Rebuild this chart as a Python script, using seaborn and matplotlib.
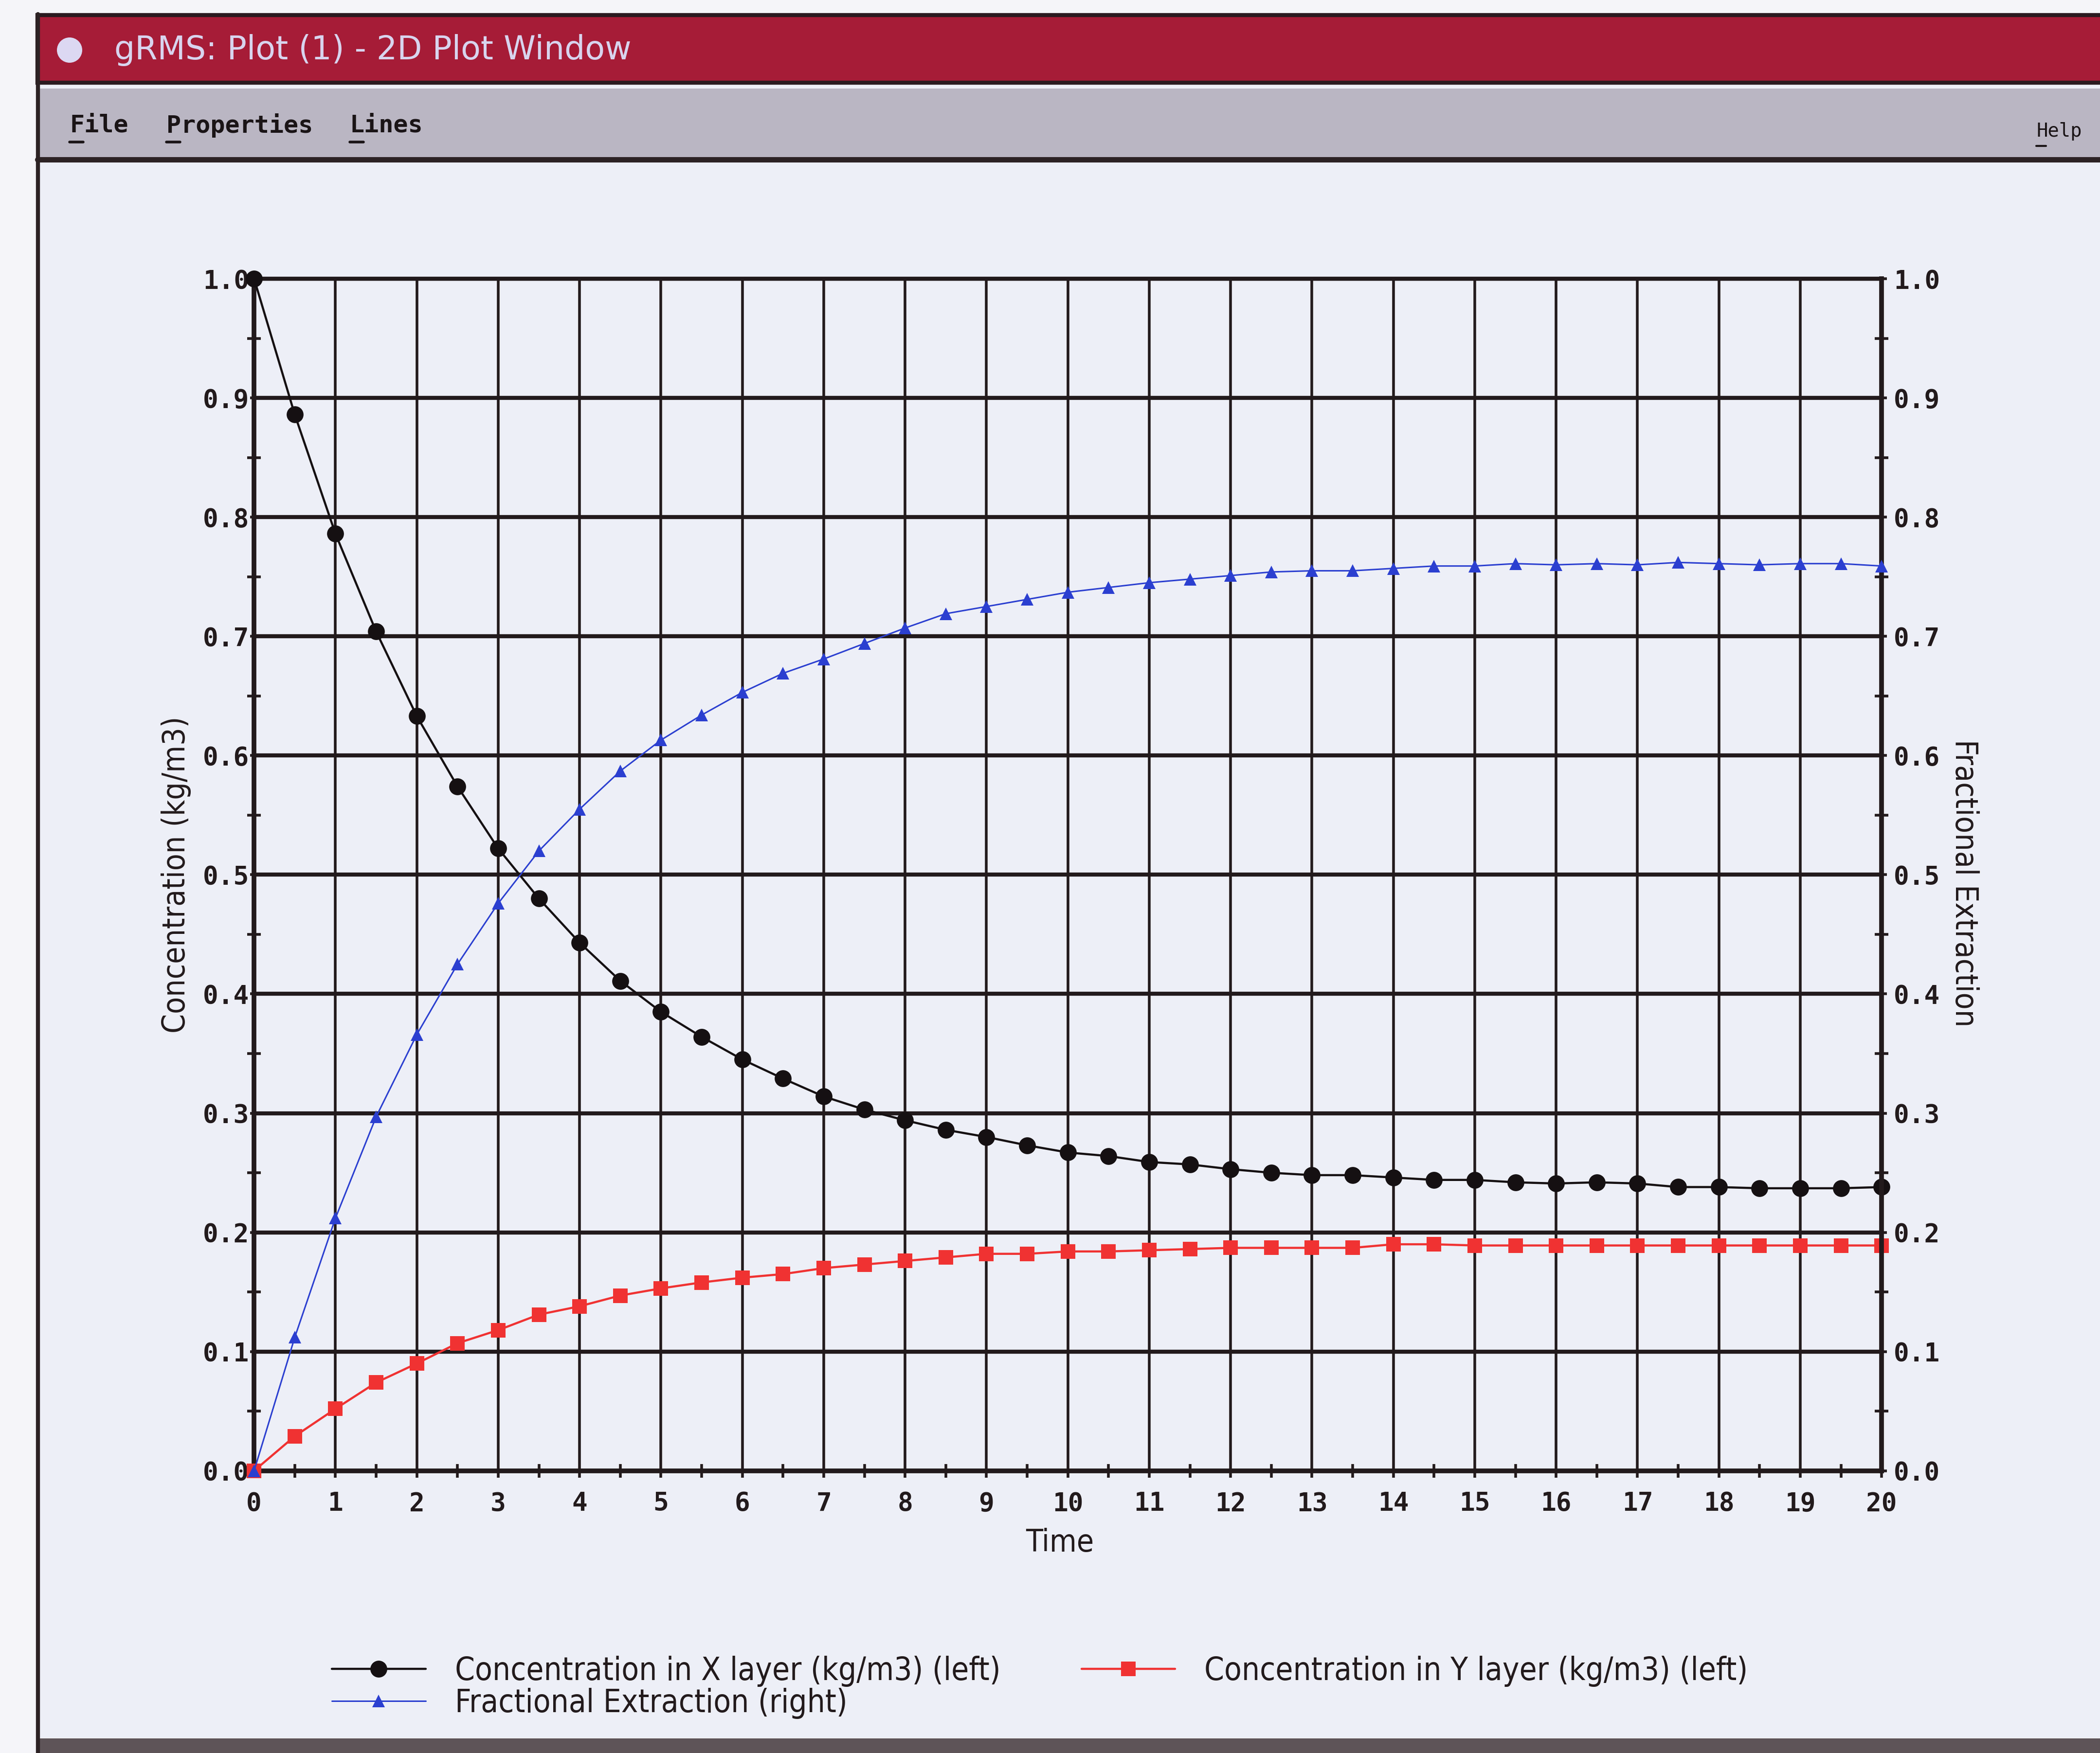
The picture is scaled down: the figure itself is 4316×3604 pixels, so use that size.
import numpy as np
import pandas as pd
import matplotlib
matplotlib.use("Agg")
import matplotlib.pyplot as plt
from matplotlib.patches import Rectangle, Ellipse
from matplotlib.lines import Line2D
from matplotlib.ticker import MultipleLocator, FormatStrFormatter
import seaborn as sns

# ---------------- data ----------------
time = [0.0, 0.5, 1.0, 1.5, 2.0, 2.5, 3.0, 3.5, 4.0, 4.5, 5.0, 5.5, 6.0, 6.5, 7.0,
        7.5, 8.0, 8.5, 9.0, 9.5, 10.0, 10.5, 11.0, 11.5, 12.0, 12.5, 13.0, 13.5,
        14.0, 14.5, 15.0, 15.5, 16.0, 16.5, 17.0, 17.5, 18.0, 18.5, 19.0, 19.5, 20.0]
conc_x = [1.000, 0.886, 0.786, 0.704, 0.633, 0.574, 0.522, 0.480, 0.443, 0.411,
          0.385, 0.364, 0.345, 0.329, 0.314, 0.303, 0.294, 0.286, 0.280, 0.273,
          0.267, 0.264, 0.259, 0.257, 0.253, 0.250, 0.248, 0.248, 0.246, 0.244,
          0.244, 0.242, 0.241, 0.242, 0.241, 0.238, 0.238, 0.237, 0.237, 0.237, 0.238]
conc_y = [0.000, 0.029, 0.052, 0.074, 0.090, 0.107, 0.118, 0.131, 0.138, 0.147,
          0.153, 0.158, 0.162, 0.165, 0.170, 0.173, 0.176, 0.179, 0.182, 0.182,
          0.184, 0.184, 0.185, 0.186, 0.187, 0.187, 0.187, 0.187, 0.190, 0.190,
          0.189, 0.189, 0.189, 0.189, 0.189, 0.189, 0.189, 0.189, 0.189, 0.189, 0.189]
frac_ext = [0.000, 0.112, 0.212, 0.297, 0.366, 0.425, 0.476, 0.520, 0.555, 0.587,
            0.613, 0.634, 0.653, 0.669, 0.681, 0.694, 0.707, 0.719, 0.725, 0.731,
            0.737, 0.741, 0.745, 0.748, 0.751, 0.754, 0.755, 0.755, 0.757, 0.759,
            0.759, 0.761, 0.760, 0.761, 0.760, 0.762, 0.761, 0.760, 0.761, 0.761, 0.759]

label_x = "Concentration in X layer (kg/m3) (left)"
label_f = "Fractional Extraction (right)"
label_y = "Concentration in Y layer (kg/m3) (left)"
window_title = "gRMS: Plot (1) - 2D Plot Window"
menu_items = ["File", "Properties", "Lines"]

df = pd.DataFrame({"time": time, "cx": conc_x, "cy": conc_y, "fe": frac_ext})

# ---------------- style ----------------
sns.set_theme(style="white")
W, H, DPI = 4316, 3604, 200
PAGE = "#edeff7"
INK = "#221a1c"
NARROW = ["DejaVu Sans"]
MONO = ["DejaVu Sans Mono"]

fig = plt.figure(figsize=(W / DPI, H / DPI), dpi=DPI, facecolor="#f5f5f9")

def fx(px):
    return px / W

def fy(py):
    return 1 - py / H

def frect(x0, y0, x1, y1, **kw):
    fig.add_artist(Rectangle((fx(x0), fy(y1)), fx(x1) - fx(x0), fy(y0) - fy(y1),
                             transform=fig.transFigure, **kw))

# window chrome
frect(77, 29, W, H, facecolor=PAGE, edgecolor="none", zorder=-10)
frect(77, 31, W + 20, 170, facecolor="#a61c37", edgecolor="#2a1a20", linewidth=3, zorder=-5)
fig.add_artist(Ellipse((fx(143), fy(103)), 52 / W, 52 / H, transform=fig.transFigure,
                       facecolor="#dcd8f2", edgecolor="none"))
fig.text(fx(235), fy(103), window_title, color="#d8d4ee", fontsize=24,
         family=["DejaVu Sans"], va="center", ha="left")
frect(77, 182, W, 326, facecolor="#bab6c3", edgecolor="none", zorder=-5)
fig.add_artist(Line2D([fx(77), 1], [fy(328), fy(328)], transform=fig.transFigure,
                      color="#2c2224", linewidth=4))
menu_x = [143, 342, 719]
for mx, item in zip(menu_x, menu_items):
    fig.text(fx(mx), fy(258), item, color="#1a1416", fontsize=18, family=MONO,
             fontweight="bold", va="center", ha="left")
    fig.add_artist(Line2D([fx(mx), fx(mx + 28)], [fy(292), fy(292)], transform=fig.transFigure,
                          color="#1a1416", linewidth=2))
fig.text(fx(4185), fy(270), "Help", color="#1a1416", fontsize=14, family=MONO,
         va="center", ha="left")
fig.add_artist(Line2D([fx(4185), fx(4205)], [fy(300), fy(300)], transform=fig.transFigure,
                      color="#1a1416", linewidth=1.5))
fig.add_artist(Line2D([fx(78), fx(78)], [fy(29), 0], transform=fig.transFigure,
                      color="#2c2224", linewidth=3))
frect(77, 3574, W, H, facecolor="#5e5458", edgecolor="none", zorder=-4)

# ---------------- axes ----------------
ax = fig.add_axes([0.121, 0.161, 0.896 - 0.121, 0.841 - 0.161])
ax.set_facecolor(PAGE)
ax2 = ax.twinx()

sns.lineplot(data=df, x="time", y="cx", ax=ax, color="#151012", linewidth=1.6,
             marker="o", markersize=12.5, markeredgewidth=0, clip_on=False,
             label=label_x, legend=False, zorder=5)
sns.lineplot(data=df, x="time", y="cy", ax=ax, color="#f03232", linewidth=1.6,
             marker="s", markersize=10.5, markeredgewidth=0, clip_on=False,
             label=label_y, legend=False, zorder=5)
sns.lineplot(data=df, x="time", y="fe", ax=ax2, color="#2b3fd0", linewidth=1.1,
             marker="^", markersize=9.5, markeredgewidth=0, clip_on=False,
             label=label_f, legend=False, zorder=5)

for a in (ax, ax2):
    a.set_xlim(0, 20)
    a.set_ylim(0, 1.0)

ax.set_xticks(range(0, 21))
ax.xaxis.set_minor_locator(MultipleLocator(0.5))
ax.yaxis.set_major_locator(MultipleLocator(0.1))
ax.yaxis.set_minor_locator(MultipleLocator(0.05))
ax.yaxis.set_major_formatter(FormatStrFormatter("%.1f"))
ax2.yaxis.set_major_locator(MultipleLocator(0.1))
ax2.yaxis.set_minor_locator(MultipleLocator(0.05))
ax2.yaxis.set_major_formatter(FormatStrFormatter("%.1f"))

ax.grid(True, axis="x", which="major", color=INK, linewidth=2.0)
ax.grid(True, axis="y", which="major", color=INK, linewidth=3.0)
ax.set_axisbelow(True)

ax.tick_params(axis="x", which="major", direction="out", length=5, width=2, color=INK,
               pad=10, labelcolor=INK, bottom=True)
ax.tick_params(axis="x", which="minor", direction="inout", length=10, width=2, color=INK,
               bottom=True)
ax.tick_params(axis="y", which="major", direction="out", length=3, width=2, color=INK,
               pad=0.5, labelcolor=INK, left=True)
ax.tick_params(axis="y", which="minor", direction="inout", length=10, width=2, color=INK,
               left=True)
ax2.tick_params(axis="y", which="major", direction="out", length=4, width=2, color=INK,
                pad=5, labelcolor=INK, right=True)
ax2.tick_params(axis="y", which="minor", direction="inout", length=10, width=2, color=INK,
                right=True)
for lab in ax.get_xticklabels() + ax.get_yticklabels() + ax2.get_yticklabels():
    lab.set_fontfamily(MONO)
    lab.set_fontweight("bold")
    lab.set_fontsize(19)

for a in (ax, ax2):
    for s in a.spines.values():
        s.set_color(INK)
ax.spines["left"].set_linewidth(3.5)
ax.spines["bottom"].set_linewidth(3.5)
ax.spines["top"].set_linewidth(3.0)
ax.spines["right"].set_visible(False)
ax2.spines["left"].set_visible(False)
ax2.spines["top"].set_visible(False)
ax2.spines["bottom"].set_visible(False)
ax2.spines["right"].set_linewidth(3.5)

lab_kw = dict(family=NARROW, fontsize=23, color=INK, va="center", fontstretch="condensed")
ax.set_xlabel("Time", **lab_kw)
ax.xaxis.set_label_coords(0.495, -0.0605)
ax.set_ylabel("Concentration (kg/m3)", rotation=90, **lab_kw)
ax.yaxis.set_label_coords(-0.0480, 0.50)
ax2.set_ylabel("Fractional Extraction", rotation=270, **lab_kw)
ax2.yaxis.set_label_coords(1.0508, 0.493)

# ---------------- legend ----------------
h1, l1 = ax.get_legend_handles_labels()
h2, l2 = ax2.get_legend_handles_labels()
hmap = dict(zip(l1 + l2, h1 + h2))
order = [label_x, label_f, label_y]
fig.legend([hmap[k] for k in order], order, loc="upper left",
           bbox_to_anchor=(fx(682), fy(3404)), ncol=2, frameon=False,
           prop={"family": NARROW, "size": 23.5, "stretch": "condensed"},
           handlelength=2.95, handletextpad=0.92,
           columnspacing=2.55, labelspacing=0.03, borderpad=0, borderaxespad=0,
           labelcolor=INK)

fig.savefig("out.png", dpi=DPI, facecolor=fig.get_facecolor())
